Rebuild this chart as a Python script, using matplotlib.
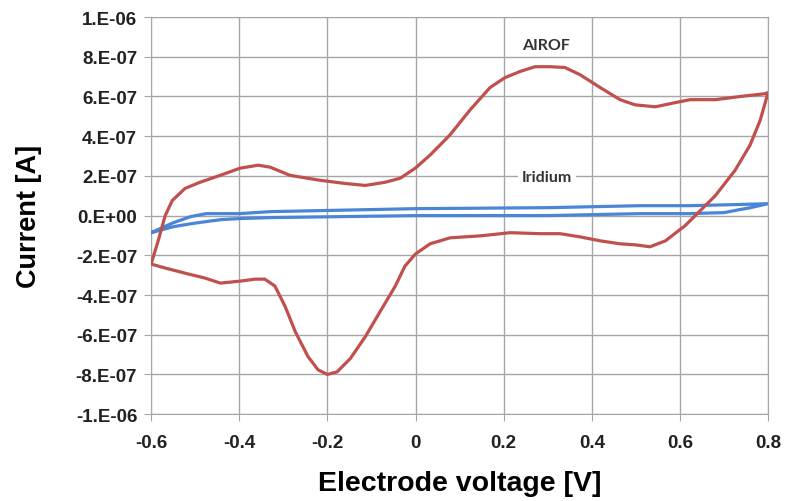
import numpy as np
import matplotlib
matplotlib.use("Agg")
import matplotlib.pyplot as plt
from matplotlib.ticker import FuncFormatter, MultipleLocator

plt.rcParams['font.family'] = ['Liberation Sans', 'DejaVu Sans']

# AIROF cyclic voltammogram (V, current in 1e-7 A), anodic sweep then cathodic back
airof_v = [-0.6, -0.584, -0.568, -0.552, -0.523, -0.489, -0.443, -0.398, -0.357, -0.33,
           -0.285, -0.217, -0.16, -0.114, -0.069, -0.035, 0.0, 0.033, 0.078, 0.124,
           0.169, 0.203, 0.237, 0.271, 0.305, 0.339, 0.373, 0.419, 0.464, 0.498,
           0.544, 0.589, 0.623, 0.68, 0.737, 0.793, 0.8,
           0.782, 0.759, 0.725, 0.68, 0.646, 0.612, 0.567, 0.532, 0.498, 0.464,
           0.419, 0.373, 0.328, 0.283, 0.215, 0.147, 0.078, 0.033, 0.0, -0.024,
           -0.046, -0.08, -0.114, -0.148, -0.178, -0.2, -0.221, -0.244, -0.273,
           -0.296, -0.319, -0.342, -0.364, -0.398, -0.443, -0.477, -0.523, -0.568, -0.6]
airof_i = [-2.44, -1.27, 0.0, 0.76, 1.37, 1.68, 2.03, 2.39, 2.54, 2.44,
           2.03, 1.78, 1.62, 1.52, 1.68, 1.88, 2.4, 3.05, 4.06, 5.33,
           6.45, 6.95, 7.26, 7.5, 7.5, 7.46, 7.1, 6.45, 5.84, 5.58,
           5.48, 5.69, 5.84, 5.84, 6.0, 6.14, 6.2,
           4.8, 3.55, 2.28, 1.0, 0.25, -0.5, -1.27, -1.57, -1.47, -1.42,
           -1.27, -1.07, -0.91, -0.91, -0.86, -1.02, -1.12, -1.42, -1.93, -2.54,
           -3.55, -4.82, -6.1, -7.2, -7.87, -8.0, -7.77, -7.1, -5.84,
           -4.57, -3.55, -3.2, -3.2, -3.3, -3.4, -3.15, -2.9, -2.64, -2.44]

# Iridium electrode
iridium_v = [-0.6, -0.58, -0.55, -0.51, -0.475, -0.4, -0.33, 0.0, 0.3, 0.51, 0.62, 0.735, 0.8,
             0.76, 0.735, 0.7, 0.62, 0.51, 0.3, 0.0, -0.33, -0.4, -0.44, -0.475, -0.51, -0.55, -0.6]
iridium_i = [-0.86, -0.66, -0.36, -0.05, 0.1, 0.1, 0.2, 0.35, 0.4, 0.5, 0.5, 0.56, 0.6,
             0.4, 0.3, 0.15, 0.1, 0.1, 0.0, 0.0, -0.1, -0.15, -0.2, -0.3, -0.41, -0.56, -0.86]

red = '#C0504D'
blue = '#4A86D6'

fig = plt.figure(figsize=(7.87, 5.02), dpi=100)
ax = fig.add_axes([0.192, 0.173, 0.784, 0.791])

ax.plot(iridium_v, np.array(iridium_i) * 1e-7, color=blue, lw=2.3, zorder=3)
ax.plot(airof_v, np.array(airof_i) * 1e-7, color=red, lw=2.3, zorder=4)

ax.set_xlim(-0.6, 0.8)
ax.set_ylim(-1e-6, 1e-6)
ax.xaxis.set_major_locator(MultipleLocator(0.2))
ax.yaxis.set_major_locator(MultipleLocator(2e-7))
ax.xaxis.set_major_formatter(FuncFormatter(lambda v, p: '0' if abs(v) < 1e-9 else f'{v:.1f}'))
ax.yaxis.set_major_formatter(FuncFormatter(lambda v, p: f'{(0.0 if abs(v) < 1e-12 else v):#.0E}'))

ax.grid(True, color='#a6a6a6', lw=1.0)
ax.set_axisbelow(True)
for s in ax.spines.values():
    s.set_color('#a6a6a6')
ax.tick_params(direction='out', length=5, color='#a6a6a6', labelsize=13.5, pad=5)
ax.tick_params(axis='x', pad=9)
for lab in ax.get_xticklabels() + ax.get_yticklabels():
    lab.set_fontweight('bold')
    lab.set_color('#222222')

ax.set_xlabel('Electrode voltage [V]', fontsize=20.5, fontweight='bold', labelpad=14)
ax.set_ylabel('Current [A]', fontsize=19.5, fontweight='bold', labelpad=24)

ax.text(0.295, 8.6e-7, 'AIROF', ha='center', va='center', fontsize=11.5, fontweight='bold',
        family=['Lato', 'DejaVu Sans'], color='#333333',
        bbox=dict(facecolor='white', edgecolor='none', pad=3), zorder=5)
ax.text(0.298, 1.93e-7, 'Iridium', ha='center', va='center', fontsize=11.5, fontweight='bold',
        family=['Lato', 'DejaVu Sans'], color='#333333',
        bbox=dict(facecolor='white', edgecolor='none', pad=3), zorder=5)

fig.savefig('out.png', dpi=100)
